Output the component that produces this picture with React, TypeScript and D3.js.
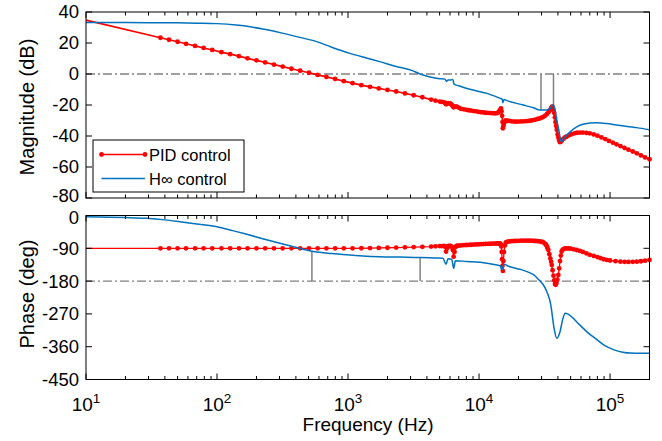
import React from 'react';
import * as d3 from 'd3';

// ---------- data ----------
const xTickExps = [1, 2, 3, 4, 5];
const magTicks = [40, 20, 0, -20, -40, -60, -80];
const phaseTicks = [0, -90, -180, -270, -360, -450];
const seriesNames = ['PID control', 'H\u221E control'];

// PID magnitude: [frequency Hz, dB]
const pidMagData: [number, number][] = [
  [10, 34.8], [37, 23.4], [43, 22.1], [50, 20.8], [58, 19.5], [68, 18.1], [79, 16.8], [92, 15.5], [108, 14.1], [126, 12.8],
  [147, 11.5], [171, 10.1], [200, 8.8], [233, 7.5], [272, 6.1], [317, 4.8], [370, 3.4], [431, 2.1], [503, 0.8], [586, -0.6],
  [684, -1.9], [797, -3.2], [929, -4.6], [1083, -5.9], [1263, -7.2], [1472, -8.3], [1716, -9.3], [2000, -10.3], [2332, -11.3],
  [2718, -12.5], [3169, -13.7], [3694, -15], [4307, -16.5], [4650, -17.2], [5020, -17.8], [5200, -18.0], [5400, -18.3],
  [5500, -18.6], [5600, -19.5], [5700, -19.2], [5800, -18.8], [5900, -18.9], [6000, -19], [6100, -19.4], [6200, -20],
  [6300, -20.8], [6400, -21.5], [6500, -21.2], [6600, -21], [6700, -21.1], [6800, -21.2], [7050, -21.8], [7300, -22.5],
  [7650, -22.8], [8000, -23.1], [8350, -23.4], [8700, -23.6], [9100, -23.9], [9500, -24.1], [9900, -24.4], [10300, -24.6],
  [10750, -24.8], [11200, -25], [11700, -25.1], [12200, -25.2], [12700, -25.3], [13200, -25.4], [13500, -25.3], [13800, -25.2],
  [14100, -24.6], [14300, -24], [14500, -23.2], [14700, -22.2], [14850, -24], [15000, -27], [15100, -31], [15200, -35],
  [15350, -33.5], [15500, -32], [15750, -30.8], [16000, -30], [16500, -30.2], [17000, -30.3], [17700, -30.5], [18500, -30.7],
  [19200, -30.7], [20000, -30.7], [21000, -30.6], [22000, -30.5], [23000, -30.4], [24000, -30.2], [25000, -30], [26000, -29.7],
  [27000, -29.4], [28000, -29], [29000, -28.7], [30000, -28.2], [31000, -27.6], [32000, -26.8], [33000, -25.8], [34000, -24.5],
  [34800, -23.2], [35500, -22], [36000, -21.3], [36300, -21], [36800, -22.5], [37400, -25], [37900, -28], [38300, -31],
  [38800, -33.5], [39200, -36], [39800, -39], [40300, -41], [40900, -42.8], [41500, -44], [42200, -43.5], [43000, -42.8],
  [44000, -41.8], [45000, -41], [46000, -40.6], [47000, -40.2], [49000, -39.4], [51000, -38.8], [53500, -38.3], [56000, -37.9],
  [59000, -37.8], [62000, -37.8], [66000, -38], [70000, -38.3], [75000, -39], [80000, -39.8], [86000, -40.9], [92000, -42],
  [98000, -43.2], [105000, -44.3], [112000, -45.4], [120000, -46.5], [129000, -47.7], [138000, -48.8], [149000, -50],
  [160000, -51.2], [172000, -52.5], [185000, -53.8], [200000, -55],
];

// PID phase: [frequency Hz, deg]
const pidPhaseData: [number, number][] = [
  [10, -90], [37, -90], [43, -90], [50, -90], [58, -90], [68, -90], [79, -90], [92, -90], [108, -90], [126, -90],
  [147, -90], [171, -90], [200, -90], [233, -90], [272, -90], [317, -90], [370, -90], [431, -90], [503, -90], [586, -90],
  [684, -90], [797, -90], [929, -90], [1083, -90], [1263, -89.8], [1472, -89.5], [1716, -89], [2000, -88.5], [2332, -88],
  [2718, -87.3], [3169, -86.7], [3694, -86], [4307, -85.3], [4650, -84.6], [5020, -84], [5200, -83.8], [5400, -83.5],
  [5500, -86], [5600, -99], [5700, -90], [5800, -84], [5900, -83.6], [6000, -83.5], [6100, -84], [6200, -86], [6300, -95],
  [6400, -113], [6500, -100], [6600, -87], [6700, -84], [6800, -83], [7050, -82.5], [7300, -82], [7650, -81.5], [8000, -81],
  [8350, -80.6], [8700, -80.2], [9100, -79.8], [9500, -79.5], [9900, -79.1], [10300, -78.8], [10750, -78.4], [11200, -78],
  [11700, -77.7], [12200, -77.5], [12700, -77.2], [13200, -77], [13600, -76.8], [14000, -76.5], [14300, -76.8], [14500, -77],
  [14700, -80], [14800, -85], [14900, -100], [15000, -120], [15100, -138], [15200, -152], [15350, -125], [15500, -100],
  [15750, -82], [16000, -74], [16500, -72], [17000, -71], [17700, -70.5], [18500, -70], [19200, -69.7], [20000, -69.5],
  [21000, -69.2], [22000, -69], [23000, -69], [24000, -69], [25000, -69.2], [26000, -69.5], [27000, -70], [28000, -70.5],
  [29000, -71.2], [30000, -72], [31000, -74], [32000, -78], [32500, -81], [33000, -85], [33400, -90], [33800, -95],
  [34400, -106], [35000, -118], [35500, -127], [35900, -136], [36400, -150], [37000, -165], [37500, -178], [38000, -188],
  [38500, -190], [39000, -185], [39600, -176], [40300, -163], [40900, -145], [41500, -125], [42100, -110], [42700, -99],
  [43300, -95], [44000, -92], [45300, -90.5], [46700, -90], [48300, -90.3], [50000, -91], [52800, -92.7], [55700, -94.7],
  [58800, -97.3], [62000, -100], [66000, -104], [70000, -108], [75000, -111], [80000, -114], [84500, -117], [89000, -120],
  [94500, -122], [100000, -123.5], [110000, -125.3], [120000, -126.7], [129000, -127.1], [138000, -127.3], [149000, -127.1],
  [160000, -126.7], [172000, -125.5], [185000, -124], [200000, -122],
];

// H-infinity magnitude: [frequency Hz, dB]
const hinfMagData: [number, number][] = [
  [10, 33.2], [20, 33.2], [30, 33.1], [50, 33], [70, 32.8], [100, 32.5], [140, 31.6], [179, 30.5], [230, 28.8], [320, 26.2],
  [420, 23.8], [576, 20.9], [750, 17.3], [1035, 13.3], [1400, 10.2], [1740, 8], [2300, 5], [3100, 2.2], [3550, 0],
  [4230, -1.9], [5000, -3], [5500, -3.3], [5650, -4.8], [5800, -3.8], [6100, -3.8], [6300, -3.5], [6450, -6.5], [7000, -7.6],
  [8500, -9.9], [11500, -12.5], [14500, -15.7], [15000, -16.2], [15200, -18.5], [15500, -16.5], [16300, -17.2], [21700, -20],
  [26000, -21.8], [29200, -23.2], [32900, -23.2], [35000, -22], [36700, -20], [38000, -23], [39200, -29.7], [40800, -37],
  [42300, -43.7], [44500, -41.5], [49800, -37.2], [56000, -34], [63100, -32.3], [79000, -31.4], [95000, -32], [112000, -32.9],
  [160000, -34.6], [200000, -36],
];

// H-infinity phase: [frequency Hz, deg]
const hinfPhaseData: [number, number][] = [
  [10, -3.2], [20, -5.5], [29, -7.8], [40, -12], [52, -17], [70, -23], [100, -30.6], [130, -41], [169, -51.7], [230, -65],
  [302, -76.4], [405, -88], [548, -99], [750, -104.5], [980, -108], [1300, -111], [1740, -113], [2500, -114], [3550, -115],
  [4500, -116.5], [5300, -117.5], [5600, -134], [5800, -119], [6000, -119.5], [6200, -121], [6400, -145], [6600, -124],
  [8000, -126], [10200, -128.5], [13700, -136], [14500, -138], [14900, -149.6], [15500, -134], [17000, -140], [20600, -147.7],
  [24000, -156], [26200, -163], [28700, -177], [31000, -190.7], [33000, -210], [35200, -243], [37400, -309.6], [39200, -337],
  [41500, -319], [43500, -285], [45400, -268], [47500, -270], [49800, -275], [52000, -281], [58600, -300], [68000, -322],
  [79000, -340], [92000, -358], [106000, -368], [125000, -375], [143000, -377.5], [170000, -378], [200000, -378],
];

// stability-margin marker lines: [frequency Hz, end value]
const gainMarginLines: [number, number][] = [[29700, -23.2], [37000, -21]];
const phaseMarginLines: [number, number][] = [[530, -97], [3550, -115]];
const markerStartHz = 37;

// ---------- styles ----------
const FONT = '"Liberation Sans", Arial, Helvetica, sans-serif';
const RED = '#ff0000';
const BLUE = '#0072BD';
const GRAY = '#808080';

export default function App() {
  const x = d3.scaleLog().domain([10, 2e5]).range([86, 649.5]);
  const yMag = d3.scaleLinear().domain([-80, 40]).range([198, 12]);
  const yPh = d3.scaleLinear().domain([-450, 0]).range([379.5, 215.5]);

  const [xl, xr] = x.range();
  const allTicks = x.ticks();
  const isMajor = (t: number) => Math.abs(Math.log10(t) - Math.round(Math.log10(t))) < 1e-9;

  const mkLine = (data: [number, number][], y: d3.ScaleLinear<number, number>, curve: d3.CurveFactory) =>
    d3.line<[number, number]>().x((d) => x(d[0])).y((d) => y(d[1])).curve(curve)(data) || '';

  // nudge: bottom label of the upper axes a little up, top label of the lower axes a little down
  const renderAxes = (y: d3.ScaleLinear<number, number>, yTicks: number[], showXLabels: boolean, nudgeTop: number, nudgeBottom: number) => {
    const [yb, yt] = y.range();
    return (
      <g>
        {allTicks.map((t, i) => {
          const len = isMajor(t) ? 6 : 3.5;
          const px = x(t);
          if (px < xl - 0.5 || px > xr + 0.5) return null;
          return (
            <g key={'xt' + i}>
              <line x1={px} x2={px} y1={yb} y2={yb - len} stroke="#000" strokeWidth={1} />
              <line x1={px} x2={px} y1={yt} y2={yt + len} stroke="#000" strokeWidth={1} />
            </g>
          );
        })}
        {yTicks.map((t, i) => {
          const nudge = i === 0 ? nudgeTop : i === yTicks.length - 1 ? nudgeBottom : 0;
          return (
            <g key={'yt' + i}>
              <line x1={xl} x2={xl + 6} y1={y(t)} y2={y(t)} stroke="#000" strokeWidth={1} />
              <line x1={xr} x2={xr - 6} y1={y(t)} y2={y(t)} stroke="#000" strokeWidth={1} />
              <text x={79} y={y(t) + nudge} dy="0.35em" textAnchor="end" fontSize={18.5} fontFamily={FONT} fill="#000">
                {String(t)}
              </text>
            </g>
          );
        })}
        <rect x={xl} y={yt} width={xr - xl} height={yb - yt} fill="none" stroke="#000" strokeWidth={1} />
        {showXLabels &&
          xTickExps.map((e) => (
            <text key={'xl' + e} x={x(Math.pow(10, e))} y={411} textAnchor="middle" fontSize={19} fontFamily={FONT} fill="#000">
              10
              <tspan fontSize={13.5} dy={-8}>{String(e)}</tspan>
            </text>
          ))}
      </g>
    );
  };

  const markers = (data: [number, number][], y: d3.ScaleLinear<number, number>, key: string) =>
    data.map((d, i) =>
      d[0] >= markerStartHz ? <circle key={key + i} cx={x(d[0])} cy={y(d[1])} r={2.4} fill={RED} /> : null
    );

  return (
    <svg width={662} height={441} style={{ position: 'absolute', left: 0, top: 0, background: '#fff' }}>
      <rect x={0} y={0} width={662} height={441} fill="#fff" />
      {/* ---------- magnitude ---------- */}
      <line x1={xl} x2={xr} y1={yMag(0)} y2={yMag(0)} stroke={GRAY} strokeWidth={1.3} strokeDasharray="9,3,2,3" />
      {gainMarginLines.map((d, i) => (
        <line key={'gm' + i} x1={x(d[0])} x2={x(d[0])} y1={yMag(0)} y2={yMag(d[1])} stroke={GRAY} strokeWidth={1.5} />
      ))}
      <path d={mkLine(pidMagData, yMag, d3.curveLinear)} fill="none" stroke={RED} strokeWidth={1.7} />
      {markers(pidMagData, yMag, 'pm')}
      <path d={mkLine(hinfMagData, yMag, d3.curveMonotoneX)} fill="none" stroke={BLUE} strokeWidth={1.5} />
      {renderAxes(yMag, magTicks, false, 0, -2)}

      {/* legend */}
      <g>
        <rect x={93} y={140} width={151} height={52} fill="#fff" stroke="#000" strokeWidth={1} />
        <line x1={101.5} x2={145} y1={154.5} y2={154.5} stroke={RED} strokeWidth={1.7} />
        <circle cx={101.5} cy={154.5} r={2.4} fill={RED} />
        <circle cx={145} cy={154.5} r={2.4} fill={RED} />
        <text x={149} y={161} fontSize={16.5} fontFamily={FONT} fill="#000">{seriesNames[0]}</text>
        <line x1={101.5} x2={145} y1={178.5} y2={178.5} stroke={BLUE} strokeWidth={1.5} />
        <text x={149} y={185} fontSize={16.5} fontFamily={FONT} fill="#000">{seriesNames[1]}</text>
      </g>

      {/* ---------- phase ---------- */}
      <line x1={xl} x2={xr} y1={yPh(-180)} y2={yPh(-180)} stroke={GRAY} strokeWidth={1.3} strokeDasharray="9,3,2,3" />
      {phaseMarginLines.map((d, i) => (
        <line key={'pmg' + i} x1={x(d[0])} x2={x(d[0])} y1={yPh(-180)} y2={yPh(d[1])} stroke={GRAY} strokeWidth={1.5} />
      ))}
      <path d={mkLine(pidPhaseData, yPh, d3.curveLinear)} fill="none" stroke={RED} strokeWidth={1.3} />
      {markers(pidPhaseData, yPh, 'pp')}
      <path d={mkLine(hinfPhaseData, yPh, d3.curveMonotoneX)} fill="none" stroke={BLUE} strokeWidth={1.5} />
      {renderAxes(yPh, phaseTicks, true, 2, 0)}

      {/* axis titles */}
      <text transform="translate(34,107) rotate(-90)" textAnchor="middle" fontSize={20} fontFamily={FONT} fill="#000">
        Magnitude (dB)
      </text>
      <text transform="translate(34,294) rotate(-90)" textAnchor="middle" fontSize={20} fontFamily={FONT} fill="#000">
        Phase (deg)
      </text>
      <text x={368} y={431} textAnchor="middle" fontSize={19} fontFamily={FONT} fill="#000">
        Frequency (Hz)
      </text>
    </svg>
  );
}
